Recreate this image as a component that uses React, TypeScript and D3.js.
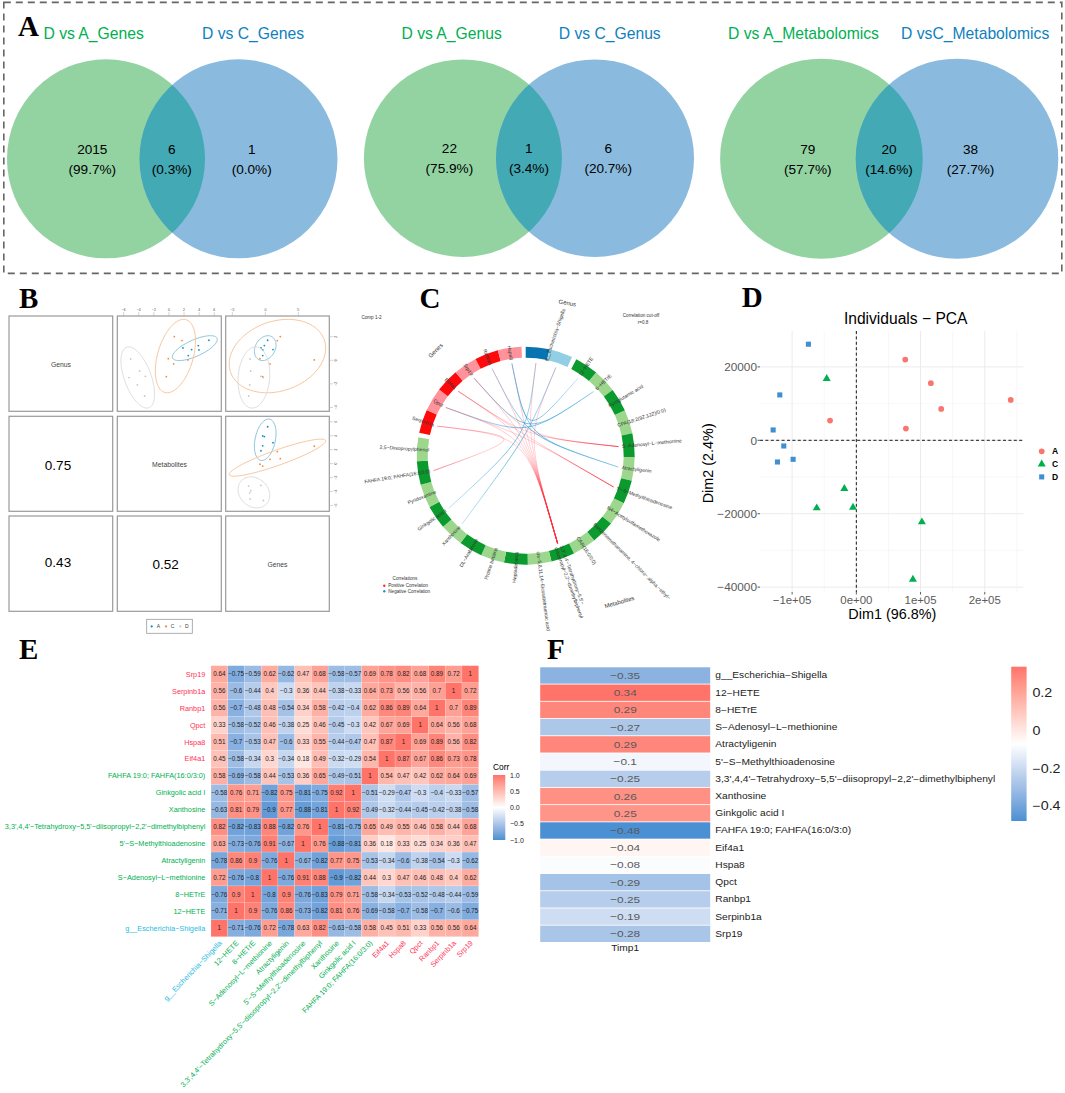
import * as d3 from "d3";

const SANS = "'Liberation Sans', Arial, sans-serif";
const SERIF = "'Liberation Serif', 'Times New Roman', serif";
const MINUS = "\u2212";
const rm = (s: string) => s.replace(/-/g, MINUS);

// ---------- panel A
const vennTitles = [
  ["D vs A_Genes", "D vs C_Genes"],
  ["D vs A_Genus", "D vs C_Genus"],
  ["D vs A_Metabolomics", "D vsC_Metabolomics"],
];
const vennCounts = [
  [2015, 6, 1],
  [22, 1, 6],
  [79, 20, 38],
];
const vennShares = [
  ["99.7%", "0.3%", "0.0%"],
  ["75.9%", "3.4%", "20.7%"],
  ["57.7%", "14.6%", "27.7%"],
];

// ---------- panel B (sample scores per block, same sample order in each array)
const blockNames = ["Genus", "Metabolites", "Genes"];
const groupNames = ["A", "C", "D"];
const genusScores = [
  [1.7, 1.25, 0.88, 0.91, 1.05, 0.4],
  [2.01, 1.67, 0.14, -0.31, 0.03, -1.39],
  [0.11, -0.91, -1.47, -1.36, -2.09, -3.03],
];
const metaboliteScores = [
  [5.29, 3.88, 3.97, 3.0, 1.85, 2.56],
  [0.71, 1.72, -0.09, 0.62, 2.51, -0.35],
  [-5.07, -3.88, -5.29, -3.13, -4.19, -3.22],
];
const geneScores = [
  [0.35, -0.15, -0.4, 1.16, -0.66, -0.4],
  [2.27, 1.82, -0.81, 0.71, 7.42, -0.4],
  [-2.32, -2.22, -0.3, -0.66, -2.37, -2.53],
];
const blockCorrs = [
  { row: 1, col: 0, value: "0.75" },
  { row: 2, col: 0, value: "0.43" },
  { row: 2, col: 1, value: "0.52" },
];
const metaboliteTicks = [-6, -4, -2, 0, 2, 4, 6];
const geneTicks = [-5, 0, 5];
const genusTicks = [2, 0, -2, -4];

// ---------- panel C
const circosGenus = ["g__Escherichia-Shigella", "g__Unassigned"];
const circosMetabolites = [
  "12-HETE",
  "8-HETrE",
  "Pyroglutamic acid",
  "CPA(18:2(9Z,12Z)/0:0)",
  "S-Adenosyl-L-methionine",
  "Atractyligenin",
  "5'-S-Methylthioadenosine",
  "N4-Acetylsulfamethoxazole",
  "Benzenemethanamine, 4-chloro-.alpha.-ethyl-",
  "CAR(16:0/0:0)",
  "3,3',4,4'-Tetrahydroxy-5,5'-\ndiisopropyl-2,2'-dimethylbiphenyl",
  "cis-5,8,11,14-Eicosatetraenoic acid",
  "Heptadecanal",
  "Proline betaine",
  "DL-Arabinose",
  "Xanthosine",
  "Ginkgolic acid I",
  "Pyridoxamine",
  "FAHFA 19:0; FAHFA(16:0/3:0)",
  "2,5-Diisopropylphenol",
];
const circosGenes = ["Serpinb1a", "Qpct", "Eif4a1", "Srp19", "Ranbp1", "Hspa8"];
const BIPHENYL = circosMetabolites[10];
const circosLinks: [string, string, number][] = [
  ["Serpinb1a", BIPHENYL, 1],
  ["Qpct", BIPHENYL, 1],
  ["Eif4a1", BIPHENYL, 1],
  ["Srp19", BIPHENYL, 1],
  ["Ranbp1", BIPHENYL, 1],
  ["Hspa8", BIPHENYL, 1],
  ["g__Escherichia-Shigella", BIPHENYL, 1],
  ["g__Unassigned", BIPHENYL, 1],
  ["Serpinb1a", "FAHFA 19:0; FAHFA(16:0/3:0)", 1],
  ["Srp19", "S-Adenosyl-L-methionine", 1],
  ["Eif4a1", "S-Adenosyl-L-methionine", 1],
  ["Qpct", "5'-S-Methylthioadenosine", 1],
  ["Eif4a1", "5'-S-Methylthioadenosine", 1],
  ["Hspa8", "12-HETE", -1],
  ["Srp19", "8-HETrE", -1],
  ["Qpct", "8-HETrE", -1],
  ["Ranbp1", "Atractyligenin", -1],
  ["Hspa8", "Atractyligenin", -1],
  ["Ginkgolic acid I", "g__Escherichia-Shigella", -1],
  ["Xanthosine", "g__Unassigned", -1],
];

// ---------- panel D
const pcaGroups = ["A", "C", "D"];
const pcaDim1 = [
  [76166, 116062, 132124, 240414, 77202, -40932],
  [-46114, -18653, -61658, -5181, 102073, 88083],
  [-74611, -119171, -129534, -112953, -122798, -98446],
];
const pcaDim2 = [
  [22000, 15545, 8545, 11000, 3182, 5364],
  [16818, -13182, -18455, -18273, -22273, -37909],
  [26182, 12364, 2818, -1545, -5909, -5182],
];
const pcaXTicks = [-100000, 0, 100000, 200000];
const pcaXTickLabels = ["-1e+05", "0e+00", "1e+05", "2e+05"];
const pcaXMinor = [-50000, 50000, 150000, 250000];
const pcaYTicks = [20000, 0, -20000, -40000];
const pcaYMinor = [10000, -10000, -30000];

// ---------- panel E (rows listed bottom to top, columns left to right)
const corrLabels = [
  "g__Escherichia-Shigella",
  "12-HETE",
  "8-HETrE",
  "S-Adenosyl-L-methionine",
  "Atractyligenin",
  "5'-S-Methylthioadenosine",
  "3,3',4,4'-Tetrahydroxy-5,5'-diisopropyl-2,2'-dimethylbiphenyl",
  "Xanthosine",
  "Ginkgolic acid I",
  "FAHFA 19:0; FAHFA(16:0/3:0)",
  "Eif4a1",
  "Hspa8",
  "Qpct",
  "Ranbp1",
  "Serpinb1a",
  "Srp19",
];
const corrMatrix = [
  [1, -0.71, -0.76, 0.72, -0.78, 0.63, 0.82, -0.63, -0.58, 0.58, 0.45, 0.51, 0.33, 0.56, 0.56, 0.64],
  [-0.71, 1, 0.9, -0.76, 0.86, -0.73, -0.82, 0.81, 0.76, -0.69, -0.58, -0.7, -0.58, -0.7, -0.6, -0.75],
  [-0.76, 0.9, 1, -0.8, 0.9, -0.76, -0.83, 0.79, 0.71, -0.58, -0.34, -0.53, -0.52, -0.48, -0.44, -0.59],
  [0.72, -0.76, -0.8, 1, -0.76, 0.91, 0.88, -0.9, -0.82, 0.44, 0.3, 0.47, 0.46, 0.48, 0.4, 0.62],
  [-0.78, 0.86, 0.9, -0.76, 1, -0.67, -0.82, 0.77, 0.75, -0.53, -0.34, -0.6, -0.38, -0.54, -0.3, -0.62],
  [0.63, -0.73, -0.76, 0.91, -0.67, 1, 0.76, -0.88, -0.81, 0.36, 0.18, 0.33, 0.25, 0.34, 0.36, 0.47],
  [0.82, -0.82, -0.83, 0.88, -0.82, 0.76, 1, -0.81, -0.75, 0.65, 0.49, 0.55, 0.46, 0.58, 0.44, 0.68],
  [-0.63, 0.81, 0.79, -0.9, 0.77, -0.88, -0.81, 1, 0.92, -0.49, -0.32, -0.44, -0.45, -0.42, -0.38, -0.58],
  [-0.58, 0.76, 0.71, -0.82, 0.75, -0.81, -0.75, 0.92, 1, -0.51, -0.29, -0.47, -0.3, -0.4, -0.33, -0.57],
  [0.58, -0.69, -0.58, 0.44, -0.53, 0.36, 0.65, -0.49, -0.51, 1, 0.54, 0.47, 0.42, 0.62, 0.64, 0.69],
  [0.45, -0.58, -0.34, 0.3, -0.34, 0.18, 0.49, -0.32, -0.29, 0.54, 1, 0.87, 0.67, 0.86, 0.73, 0.78],
  [0.51, -0.7, -0.53, 0.47, -0.6, 0.33, 0.55, -0.44, -0.47, 0.47, 0.87, 1, 0.69, 0.89, 0.56, 0.82],
  [0.33, -0.58, -0.52, 0.46, -0.38, 0.25, 0.46, -0.45, -0.3, 0.42, 0.67, 0.69, 1, 0.64, 0.56, 0.68],
  [0.56, -0.7, -0.48, 0.48, -0.54, 0.34, 0.58, -0.42, -0.4, 0.62, 0.86, 0.89, 0.64, 1, 0.7, 0.89],
  [0.56, -0.6, -0.44, 0.4, -0.3, 0.36, 0.44, -0.38, -0.33, 0.64, 0.73, 0.56, 0.56, 0.7, 1, 0.72],
  [0.64, -0.75, -0.59, 0.62, -0.62, 0.47, 0.68, -0.58, -0.57, 0.69, 0.78, 0.82, 0.68, 0.89, 0.72, 1],
];
const corrLegendTicks = [1, 0.5, 0, -0.5, -1];

// ---------- panel F
const timpLabels = corrLabels;
const timpValues = [-0.35, 0.34, 0.29, -0.27, 0.29, -0.1, -0.25, 0.26, 0.25, -0.48, -0.04, -0.08, -0.29, -0.25, -0.19, -0.28];
const timpLegendTicks = [0.2, 0, -0.2, -0.4];

const BLUE = "#4a90d2";
const RED = "#ff7369";
const GREEN_TXT = "#00b050";
const BLUE_TXT = "#0f7fc0";
const corrColor = d3.scaleLinear<string>().domain([-1, 0, 1]).range([BLUE, "#ffffff", RED]).interpolate(d3.interpolateLab);
const labelColor = (i: number) => (i === 0 ? "#2bbbe0" : i < 10 ? "#00b050" : "#ff3355");

function Label({ x, y, text, size, color = "#000", anchor = "middle", family = SANS, weight, rotate }: any) {
  return (
    <text
      x={rotate === undefined ? x : undefined}
      y={rotate === undefined ? y : undefined}
      transform={rotate === undefined ? undefined : `translate(${x},${y}) rotate(${rotate})`}
      fontFamily={family}
      fontSize={size}
      fontWeight={weight}
      fill={color}
      textAnchor={anchor}
    >
      {text}
    </text>
  );
}

// ---------- panel A
const vennLayout = [
  { cx: [106, 238.5], rx: 99, cy: 158.8, ry: 99.5, tx: [93.6, 253], lx: [92.3, 171.8, 251.7], by: 154.3 },
  { cx: [462.9, 595], rx: 99, cy: 158.2, ry: 98.8, tx: [451.6, 609.7], lx: [449.4, 528.9, 608.2], by: 153.3 },
  { cx: [821.4, 957], rx: 101.3, cy: 158.7, ry: 100, tx: [803.5, 975.2], lx: [807.8, 889, 970.6], by: 154 },
];

function PanelA() {
  return (
    <g>
      <rect x={3.8} y={2.4} width={1058} height={271} fill="none" stroke="#666" strokeWidth={1.6} strokeDasharray="7 5" />
      <Label x={18} y={35.7} text="A" size={29} family={SERIF} weight="bold" anchor="start" />
      {vennLayout.map((v, i) => (
        <g key={i}>
          <clipPath id={`venn-clip-${i}`}>
            <ellipse cx={v.cx[0]} cy={v.cy} rx={v.rx} ry={v.ry} />
          </clipPath>
          <ellipse cx={v.cx[0]} cy={v.cy} rx={v.rx} ry={v.ry} fill="#93d3a2" />
          <ellipse cx={v.cx[1]} cy={v.cy} rx={v.rx} ry={v.ry} fill="#8abbdf" />
          <ellipse cx={v.cx[1]} cy={v.cy} rx={v.rx} ry={v.ry} fill="#43a9b4" clipPath={`url(#venn-clip-${i})`} />
          <Label x={v.tx[0]} y={39} text={vennTitles[i][0]} size={15.7} color={GREEN_TXT} />
          <Label x={v.tx[1]} y={39} text={vennTitles[i][1]} size={15.7} color={BLUE_TXT} />
          {vennCounts[i].map((c, j) => (
            <g key={j}>
              <Label x={v.lx[j]} y={v.by} text={String(c)} size={13.6} />
              <Label x={v.lx[j]} y={v.by + 19.7} text={`(${vennShares[i][j]})`} size={13.6} />
            </g>
          ))}
        </g>
      ))}
    </g>
  );
}

// ---------- panel B
const groupColors = ["#0f8fc8", "#f58a33", "#c9c9c9"];
const ellipseColors = ["#8cc4dc", "#f8c79f", "#dedede"];

function ellipsePath(xs: number[], ys: number[], sx: any, sy: any) {
  const mx = d3.mean(xs)!;
  const my = d3.mean(ys)!;
  const dx = d3.deviation(xs)!;
  const dy = d3.deviation(ys)!;
  const r = d3.sum(xs, (x, i) => (x - mx) * (ys[i] - my)) / (xs.length - 1) / (dx * dy);
  const d = Math.acos(r);
  const k = 2.4477; // 95% level
  const line = d3
    .line<number>()
    .x((a) => sx(mx + k * dx * Math.cos(a + d / 2)))
    .y((a) => sy(my + k * dy * Math.cos(a - d / 2)))
    .curve(d3.curveLinearClosed);
  return line(d3.range(0, Math.PI * 2, 0.08)) as string;
}

function PanelB() {
  const colX = [
    [9, 112.7],
    [117.3, 221.3],
    [225.7, 329.3],
  ];
  const rowY = [
    [316, 411.3],
    [416.3, 511.3],
    [516, 611.3],
  ];
  const metabX = d3.scaleLinear().domain([-6.84, 6.93]).range(colX[1]);
  const geneX = d3.scaleLinear().domain([-6.01, 9.7]).range(colX[2]);
  const genusY = d3.scaleLinear().domain([3.76, -4.33]).range(rowY[0]);
  const metabY = d3.scaleLinear().domain([6.79, -6.84]).range(rowY[1]);
  const scatters = [
    { xs: metaboliteScores, ys: genusScores, sx: metabX, sy: genusY },
    { xs: geneScores, ys: genusScores, sx: geneX, sy: genusY },
    { xs: geneScores, ys: metaboliteScores, sx: geneX, sy: metabY },
  ];
  return (
    <g>
      <Label x={19} y={307.5} text="B" size={29} family={SERIF} weight="bold" anchor="start" />
      {rowY.map((ry, r) =>
        colX.map((cx, c) => (
          <rect key={`${r}-${c}`} x={cx[0]} y={ry[0]} width={cx[1] - cx[0]} height={ry[1] - ry[0]} fill="#fff" stroke="#9a9a9a" strokeWidth={1.2} />
        ))
      )}
      {blockNames.map((n, i) => (
        <Label key={n} x={[61, 169.5, 277.5][i]} y={[367, 467, 567][i]} text={n} size={6.8} color="#444" />
      ))}
      {blockCorrs.map((b) => (
        <Label key={b.value} x={[58, 165.7][b.col]} y={b.row === 1 ? 470 : b.value === "0.43" ? 567 : 569} text={b.value} size={13.5} />
      ))}
      {scatters.map((s, i) => (
        <g key={i}>
          {groupNames.map((g, k) => (
            <g key={g}>
              <path d={ellipsePath(s.xs[k], s.ys[k], s.sx, s.sy)} fill="none" stroke={ellipseColors[k]} strokeWidth={1} />
              {s.xs[k].map((x, j) => (
                <circle key={j} cx={s.sx(x)} cy={s.sy(s.ys[k][j])} r={0.9} fill={groupColors[k]} />
              ))}
            </g>
          ))}
        </g>
      ))}
      {metaboliteTicks.map((t) => (
        <g key={t}>
          <line x1={metabX(t)} x2={metabX(t)} y1={312} y2={316} stroke="#aaa" strokeWidth={0.5} />
          <Label x={metabX(t)} y={311} text={t < 0 ? MINUS + -t : String(t)} size={3.4} color="#444" />
        </g>
      ))}
      {geneTicks.map((t) => (
        <g key={t}>
          <line x1={geneX(t)} x2={geneX(t)} y1={312} y2={316} stroke="#aaa" strokeWidth={0.5} />
          <Label x={geneX(t)} y={311} text={t < 0 ? MINUS + -t : String(t)} size={3.4} color="#444" />
        </g>
      ))}
      {genusTicks.map((t) => (
        <g key={t}>
          <line x1={329.3} x2={333} y1={genusY(t)} y2={genusY(t)} stroke="#aaa" strokeWidth={0.5} />
          <Label x={337} y={genusY(t)} text={t < 0 ? MINUS + -t : String(t)} size={3.4} color="#444" rotate={-90} />
        </g>
      ))}
      {metaboliteTicks.map((t) => (
        <g key={t}>
          <line x1={329.3} x2={333} y1={metabY(t)} y2={metabY(t)} stroke="#aaa" strokeWidth={0.5} />
          <Label x={337} y={metabY(t)} text={t < 0 ? MINUS + -t : String(t)} size={3.4} color="#444" rotate={-90} />
        </g>
      ))}
      <rect x={146.7} y={619.3} width={45.6} height={14} fill="#fff" stroke="#9a9a9a" strokeWidth={0.8} />
      {groupNames.map((g, k) => (
        <g key={g}>
          <circle cx={151.7 + k * 14.3} cy={626.4} r={1.1} fill={groupColors[k]} />
          <Label x={158.3 + k * 14.3} y={628.2} text={g} size={5} color="#444" />
        </g>
      ))}
    </g>
  );
}

// ---------- panel C
const ringSeg = 12.6;
const ringGap = 2.5;

function ringAngles(names: string[], start: number) {
  return names.map((name, i) => ({ name, i, a0: start + i * ringSeg, a1: start + (i + 1) * ringSeg }));
}

function PanelC() {
  const cx = 525.7;
  const cy = 455.7;
  const genus = ringAngles(circosGenus, 0);
  const metabolites = ringAngles(circosMetabolites, 2 * ringSeg + ringGap);
  const genes = ringAngles(circosGenes, 22 * ringSeg + 2 * ringGap);
  const segArc = d3.arc<any>().innerRadius(98).outerRadius(109);
  const rad = (a: number) => (a * Math.PI) / 180;
  const ringRows = [
    { segs: genus, dark: "#0873b1", light: "#92cfe4" },
    { segs: metabolites, dark: "#0a9a2d", light: "#9dd78d" },
    { segs: genes, dark: "#ff0a0a", light: "#ff929a" },
  ];
  const allSegs = [...genus, ...metabolites, ...genes];
  const byName = new Map(allSegs.map((s) => [s.name, (s.a0 + s.a1) / 2]));
  const pt = (a: number, r: number): [number, number] => [cx + r * Math.sin(rad(a)), cy - r * Math.cos(rad(a))];
  const hub: [number, number] = [526.7, 436.7];
  const labelRadius = 96.7;
  const links = circosLinks.map(([a, b, sign], i) => {
    const p0 = pt(byName.get(a)!, 93.3);
    const p1 = pt(byName.get(b)!, 93.3);
    const path = d3.path();
    path.moveTo(p0[0], p0[1]);
    path.bezierCurveTo(hub[0], hub[1], hub[0], hub[1], p1[0], p1[1]);
    return { id: `chord-${i}`, p0, p1, d: path.toString(), sign };
  });
  const drawLabel = (name: string, a: number) => {
    const right = a < 180;
    const [x, y] = pt(a, labelRadius);
    const lines = name.split("\n");
    return (
      <text
        key={name}
        transform={`translate(${x},${y}) rotate(${right ? a - 90 : a + 90})`}
        textAnchor={right ? "start" : "end"}
        fontFamily={SANS}
        fontSize={5}
        fill="#333"
      >
        {lines.map((l, i) => (
          <tspan key={i} x={0} y={(i - (lines.length - 1) / 2) * 5.6 + 1.7}>
            {rm(l)}
          </tspan>
        ))}
      </text>
    );
  };
  return (
    <g>
      <Label x={419.5} y={308} text="C" size={29} family={SERIF} weight="bold" anchor="start" />
      <defs>
        {links.map((l) => (
          <linearGradient key={l.id} id={l.id} gradientUnits="userSpaceOnUse" x1={l.p0[0]} y1={l.p0[1]} x2={l.p1[0]} y2={l.p1[1]}>
            <stop offset="0" stopColor={l.sign > 0 ? "#ff2a3a" : "#1a94d6"} stopOpacity={0.4} />
            <stop offset="0.5" stopColor={l.sign > 0 ? "#ff2a3a" : "#1a94d6"} stopOpacity={l.sign > 0 ? 0.3 : 0.85} />
            <stop offset="1" stopColor={l.sign > 0 ? "#ff2a3a" : "#1a94d6"} stopOpacity={l.sign > 0 ? 0.85 : 0.4} />
          </linearGradient>
        ))}
      </defs>
      {links.map((l) => (
        <path key={l.id} d={l.d} fill="none" stroke={`url(#${l.id})`} strokeWidth={0.7} />
      ))}
      <g transform={`translate(${cx},${cy})`}>
        {ringRows.map((row) =>
          row.segs.map((s) => (
            <path
              key={s.name}
              d={segArc({ startAngle: rad(s.a0), endAngle: rad(s.a1) }) as string}
              fill={s.i % 2 === 0 ? row.dark : row.light}
            />
          ))
        )}
      </g>
      {[...metabolites, ...genes].map((s) => drawLabel(s.name, (s.a0 + s.a1) / 2))}
      <text
        transform={`translate(${pt(13, labelRadius)[0]},${pt(13, labelRadius)[1]}) rotate(-71)`}
        fontFamily={SANS}
        fontSize={5}
        fill="#333"
      >
        {rm(circosGenus[0])}
      </text>
      <Label x={567} y={305} text="Genus" size={6} color="#333" rotate={10} />
      <Label x={437} y={352} text="Genes" size={6} color="#333" rotate={-45} />
      <Label x={620} y={604} text="Metabolites" size={6} color="#333" rotate={-16} />
      <Label x={371.5} y={319} text="Comp 1-2" size={4.6} color="#333" />
      <Label x={641} y={317} text="Correlation cut-off" size={4.6} color="#333" />
      <Label x={643} y={324} text="r=0.8" size={4.6} color="#333" />
      <Label x={405} y={580} text="Correlations" size={4.6} color="#333" />
      <circle cx={384.3} cy={585.7} r={1.2} fill="#ff2a3a" />
      <Label x={388.3} y={587.3} text="Positive Correlation" size={4.6} color="#333" anchor="start" />
      <circle cx={384.3} cy={591.3} r={1.2} fill="#1a94d6" />
      <Label x={388.3} y={593} text="Negative Correlation" size={4.6} color="#333" anchor="start" />
    </g>
  );
}

// ---------- panel D
const pcaColors = ["#f8766d", "#00b04f", "#3f90d2"];
const pcaSymbols = [d3.symbolCircle, d3.symbolTriangle, d3.symbolSquare];

function PanelD() {
  const left = 760;
  const right = 1023.3;
  const top = 331;
  const bottom = 592;
  const x = d3.scaleLinear().domain([-150000, 260000]).range([left, right]);
  const y = d3.scaleLinear().domain([29780, -41330]).range([top, bottom]);
  const symbol = (k: number) => d3.symbol().type(pcaSymbols[k]).size(k === 1 ? 28 : 26)() as string;
  return (
    <g>
      <Label x={741.7} y={307} text="D" size={29} family={SERIF} weight="bold" anchor="start" />
      <Label x={905.7} y={324} text={rm("Individuals - PCA")} size={15.6} />
      {pcaXMinor.map((t) => (
        <line key={t} x1={x(t)} x2={x(t)} y1={top} y2={bottom} stroke="#f2f2f2" strokeWidth={0.6} />
      ))}
      {pcaYMinor.map((t) => (
        <line key={t} x1={left} x2={right} y1={y(t)} y2={y(t)} stroke="#f2f2f2" strokeWidth={0.6} />
      ))}
      {pcaXTicks.map((t, i) => (
        <g key={t}>
          <line x1={x(t)} x2={x(t)} y1={top} y2={bottom} stroke="#ebebeb" strokeWidth={1} />
          <line x1={x(t)} x2={x(t)} y1={bottom} y2={bottom + 2.5} stroke="#333" strokeWidth={0.8} />
          <Label x={x(t)} y={604} text={rm(pcaXTickLabels[i])} size={11.4} color="#5a5a5a" />
        </g>
      ))}
      {pcaYTicks.map((t) => (
        <g key={t}>
          <line x1={left} x2={right} y1={y(t)} y2={y(t)} stroke="#ebebeb" strokeWidth={1} />
          <line x1={left - 2.5} x2={left} y1={y(t)} y2={y(t)} stroke="#333" strokeWidth={0.8} />
          <Label x={757} y={y(t) + 4.2} text={rm(String(t))} size={11.8} color="#5a5a5a" anchor="end" />
        </g>
      ))}
      <line x1={x(0)} x2={x(0)} y1={top} y2={bottom} stroke="#000" strokeDasharray="3 2.4" strokeWidth={0.9} />
      <line x1={left} x2={right} y1={y(0)} y2={y(0)} stroke="#000" strokeDasharray="3 2.4" strokeWidth={0.9} />
      {pcaGroups.map((g, k) =>
        pcaDim1[k].map((d, j) => (
          <path key={`${g}${j}`} d={symbol(k)} transform={`translate(${x(d)},${y(pcaDim2[k][j])})`} fill={pcaColors[k]} />
        ))
      )}
      <Label x={892.3} y={619.3} text="Dim1 (96.8%)" size={14.4} />
      <Label x={713.3} y={463.3} text="Dim2 (2.4%)" size={14.4} rotate={-90} />
      {pcaGroups.map((g, k) => (
        <g key={g}>
          <path d={symbol(k)} transform={`translate(1041.7,${451.3 + k * 12.8})`} fill={pcaColors[k]} />
          <Label x={1052} y={451.3 + k * 12.8 + 3} text={g} size={8.5} weight="bold" anchor="start" />
        </g>
      ))}
    </g>
  );
}

// ---------- panel E
function PanelE() {
  const left = 211;
  const right = 478.7;
  const top = 665.7;
  const bottom = 936.7;
  const ids = corrLabels.map((_, i) => i);
  const x = d3.scaleBand<number>().domain(ids).range([left, right]);
  const y = d3.scaleBand<number>().domain(ids).range([bottom, top]);
  const legY = d3.scaleLinear().domain([1, -1]).range([775, 840]);
  const legendStops = d3.range(0, 1.001, 0.1);
  return (
    <g>
      <Label x={19} y={659} text="E" size={29} family={SERIF} weight="bold" anchor="start" />
      {corrMatrix.map((row, r) =>
        row.map((v, c) => (
          <g key={`${r}-${c}`}>
            <rect x={x(c)} y={y(r)} width={x.bandwidth()} height={y.bandwidth()} fill={corrColor(v)} stroke="#fff" strokeOpacity={0.5} strokeWidth={0.3} />
            <Label
              x={x(c)! + x.bandwidth() / 2}
              y={y(r)! + y.bandwidth() / 2 + 2.2}
              text={rm(String(v))}
              size={6.3}
              color="#222"
            />
          </g>
        ))
      )}
      {corrLabels.map((l, i) => (
        <g key={l}>
          <Label x={205.3} y={y(i)! + y.bandwidth() / 2 + 2.6} text={rm(l)} size={7.3} color={labelColor(i)} anchor="end" />
          <Label x={x(i)! + x.bandwidth() / 2 + 3} y={943.5} text={rm(l)} size={7.3} color={labelColor(i)} anchor="end" rotate={-46} />
        </g>
      ))}
      <Label x={493} y={770} text="Corr" size={8.4} anchor="start" />
      <defs>
        <linearGradient id="corr-bar" x1="0" y1="0" x2="0" y2="1">
          {legendStops.map((s) => (
            <stop key={s} offset={s} stopColor={corrColor(1 - 2 * s)} />
          ))}
        </linearGradient>
      </defs>
      <rect x={493} y={775} width={12.3} height={65} fill="url(#corr-bar)" />
      {corrLegendTicks.map((t) => (
        <Label key={t} x={510} y={legY(t) + 2.5} text={rm(t.toFixed(1))} size={7} color="#222" anchor="start" />
      ))}
    </g>
  );
}

// ---------- panel F
const timpColor = d3.scaleLinear<string>().domain([-0.48, -0.07, 0.34]).range([BLUE, "#ffffff", RED]).interpolate(d3.interpolateLab);

function Stretched({ x, y, text, size, color = "#222", anchor = "start" }: any) {
  return (
    <text transform={`translate(${x},${y}) scale(1.2,1)`} fontFamily={SANS} fontSize={size} fill={color} textAnchor={anchor}>
      {text}
    </text>
  );
}

function PanelF() {
  const left = 540.2;
  const right = 710.2;
  const ids = timpLabels.map((_, i) => i);
  const y = d3.scaleBand<number>().domain(ids).range([667.3, 942]).paddingInner(0.05);
  const legY = d3.scaleLinear().domain([0.34, -0.48]).range([666.7, 821]);
  const stops = d3.range(0, 1.001, 0.1);
  return (
    <g>
      <Label x={547} y={659} text="F" size={29} family={SERIF} weight="bold" anchor="start" />
      {timpValues.map((v, i) => (
        <g key={i}>
          <rect x={left} y={y(i)} width={right - left} height={y.bandwidth()} fill={timpColor(v)} />
          <Stretched x={(left + right) / 2} y={y(i)! + y.bandwidth() / 2 + 3.5} text={rm(String(v))} size={9.9} color="#5a5a5a" anchor="middle" />
          <Stretched x={715.3} y={y(i)! + y.bandwidth() / 2 + 3} text={rm(timpLabels[i])} size={8.5} />
        </g>
      ))}
      <Stretched x={625.2} y={950.7} text="Timp1" size={8.5} anchor="middle" />
      <defs>
        <linearGradient id="timp-bar" x1="0" y1="0" x2="0" y2="1">
          {stops.map((s) => (
            <stop key={s} offset={s} stopColor={timpColor(0.34 - 0.82 * s)} />
          ))}
        </linearGradient>
      </defs>
      <rect x={1011.2} y={666.7} width={15.4} height={154.3} fill="url(#timp-bar)" />
      {timpLegendTicks.map((t) => (
        <Stretched key={t} x={1032.4} y={legY(t) + 4.2} text={rm(String(t))} size={11.9} />
      ))}
    </g>
  );
}

export default function App() {
  return (
    <svg width={1065} height={1093} viewBox="0 0 1065 1093" style={{ position: "absolute", left: 0, top: 0, background: "#fff" }}>
      <PanelA />
      <PanelB />
      <PanelC />
      <PanelD />
      <PanelE />
      <PanelF />
    </svg>
  );
}
